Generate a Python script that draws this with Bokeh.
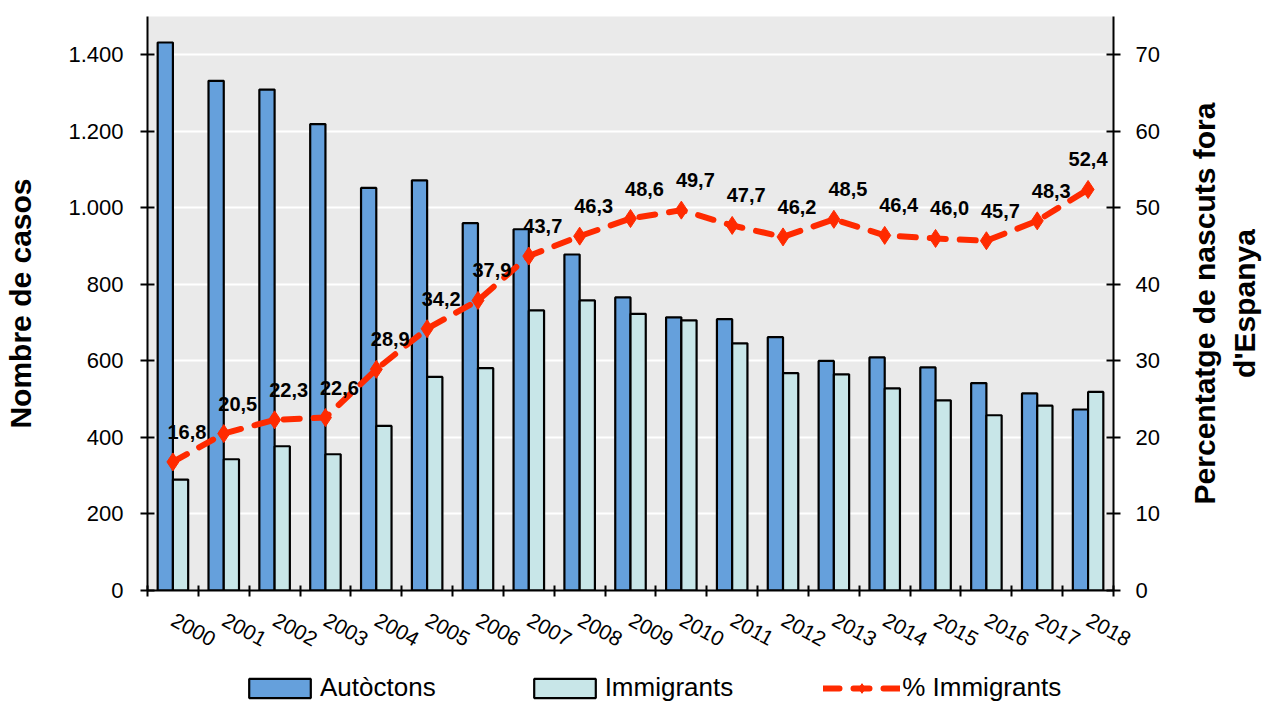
from bokeh.plotting import figure
from bokeh.layouts import row, column
from bokeh.models import (Range1d, LinearAxis, FixedTicker, ColumnDataSource,
                          LabelSet, Legend, LegendItem)
from bokeh.embed import file_html
from bokeh.resources import INLINE
from bokeh.core.properties import value
from bokeh.transform import dodge

years = list(range(2000, 2019))
autoctons = [1432, 1332, 1309, 1219, 1052, 1072, 960, 944, 878, 766,
             714, 709, 662, 600, 609, 583, 542, 515, 473]
immigrants = [290, 343, 377, 356, 430, 558, 581, 732, 758, 723,
              706, 646, 568, 565, 528, 497, 458, 483, 519]
pct_immigrants = [16.8, 20.5, 22.3, 22.6, 28.9, 34.2, 37.9, 43.7, 46.3, 48.6,
                  49.7, 47.7, 46.2, 48.5, 46.4, 46.0, 45.7, 48.3, 52.4]
left_ticks = [0, 200, 400, 600, 800, 1000, 1200, 1400]
right_ticks = [0, 10, 20, 30, 40, 50, 60, 70]
series_names = ["Autòctons", "Immigrants", "% Immigrants"]

FONT = "Liberation Sans"
BLUE = "#65A0DC"
LIGHT = "#C8E6E8"
RED = "#FF2A00"

n = len(years)
src = ColumnDataSource(dict(
    year=years, aut=autoctons, imm=immigrants, pct=pct_immigrants,
    lbl=[f"{v:.1f}".replace(".", ",") for v in pct_immigrants],
    # labels sit up and to the right of their point, except the last one,
    # which stays centred so that it remains inside the plot area
    lbl_dx=[14] * (n - 1) + [0],
))

bar1_style = dict(fill_color=BLUE, line_color="black", line_width=2.2)
bar2_style = dict(fill_color=LIGHT, line_color="black", line_width=2.2)
line_style = dict(line_color=RED, line_width=6, line_dash="16 14", line_cap="round")
mark_style = dict(marker="diamond", size=18, fill_color=RED, line_color=RED)

# ---------------- main chart ----------------
p = figure(frame_height=574, frame_width=966,
           min_border_left=147, min_border_right=47,
           min_border_top=16, min_border_bottom=80,
           x_range=Range1d(1999.5, 2018.5), y_range=Range1d(0, 1500),
           output_backend="svg", toolbar_location=None,
           background_fill_color="#EAEAEA", border_fill_color="white",
           outline_line_color=None)
p.extra_y_ranges = {"pct": Range1d(0, 75)}

p.vbar(x=dodge("year", -0.15), top="aut", width=0.3, source=src, **bar1_style)
p.vbar(x=dodge("year", 0.15), top="imm", width=0.3, source=src, **bar2_style)
p.line(x="year", y="pct", source=src, y_range_name="pct", **line_style)
p.scatter(x="year", y="pct", source=src, y_range_name="pct", **mark_style)

labels = LabelSet(x="year", y="pct", text="lbl", source=src, y_range_name="pct",
                  x_offset="lbl_dx", y_offset=30, text_align="center",
                  text_baseline="middle", text_font_size="20px",
                  text_font_style="bold", text_font=value(FONT),
                  text_color="black")
p.add_layout(labels)

p.xgrid.visible = False
p.ygrid.ticker = FixedTicker(ticks=left_ticks)
p.ygrid.grid_line_color = "white"
p.ygrid.grid_line_width = 2

xa = p.xaxis[0]
xa.ticker = FixedTicker(ticks=years, minor_ticks=[y - 0.5 for y in years] + [years[-1] + 0.5])
xa.major_tick_in = 0
xa.major_tick_out = 0
xa.minor_tick_in = 5
xa.minor_tick_out = 6
xa.minor_tick_line_width = 2
xa.minor_tick_line_color = "black"
xa.axis_line_width = 2
xa.axis_line_color = "black"
xa.major_label_orientation = -0.5
xa.major_label_standoff = 22
xa.major_label_text_font = FONT
xa.major_label_text_font_size = "21px"
xa.major_label_text_color = "black"

ya = p.yaxis[0]
ya.ticker = FixedTicker(ticks=left_ticks)
ya.major_label_overrides = {v: f"{v:,}".replace(",", ".") for v in left_ticks}
ya.major_tick_in = 7
ya.major_tick_out = 7
ya.major_tick_line_width = 2
ya.minor_tick_line_color = None
ya.axis_line_width = 2
ya.axis_line_color = "black"
ya.major_label_standoff = 17
ya.major_label_text_font = FONT
ya.major_label_text_font_size = "22px"
ya.major_label_text_color = "black"
ya.axis_label = "Nombre de casos"
ya.axis_label_text_font = FONT
ya.axis_label_text_font_size = "30px"
ya.axis_label_text_font_style = "bold"
ya.axis_label_text_color = "black"
ya.axis_label_standoff = 28

ra = LinearAxis(y_range_name="pct", ticker=FixedTicker(ticks=right_ticks))
ra.major_tick_in = 7
ra.major_tick_out = 7
ra.major_tick_line_width = 2
ra.minor_tick_line_color = None
ra.axis_line_width = 2
ra.axis_line_color = "black"
ra.major_label_standoff = 15
ra.major_label_text_font = FONT
ra.major_label_text_font_size = "22px"
ra.major_label_text_color = "black"
p.add_layout(ra, "right")

# ------------- right-hand title panel (reads bottom to top) -------------
q = figure(width=105, frame_height=574, min_border_left=104, min_border_right=0,
           min_border_top=16, min_border_bottom=80,
           x_range=Range1d(0, 1), y_range=Range1d(0, 1),
           output_backend="svg", toolbar_location=None,
           background_fill_color="white", border_fill_color="white",
           outline_line_color=None)
q.grid.visible = False
q.xaxis.visible = False
qa = q.yaxis[0]
qa.ticker = FixedTicker(ticks=[])
qa.axis_line_color = None
qa.major_tick_line_color = None
qa.minor_tick_line_color = None
qa.major_tick_out = 0
qa.major_tick_in = 0
qa.minor_tick_out = 0
qa.minor_tick_in = 0
qa.axis_label = "Percentatge de nascuts fora\nd'Espanya"
qa.axis_label_text_font = FONT
qa.axis_label_text_font_size = "30px"
qa.axis_label_text_font_style = "bold"
qa.axis_label_text_color = "black"
qa.axis_label_standoff = 6

# ---------------- legend strip ----------------
# Hidden renderers of the same data supply the legend symbols only.
lf = figure(width=1265, height=36, frame_width=966, frame_height=36,
            min_border_left=147, min_border_right=152,
            min_border_top=0, min_border_bottom=0,
            x_range=Range1d(0, 1), y_range=Range1d(0, 1),
            output_backend="svg", toolbar_location=None,
            background_fill_color="white", border_fill_color="white",
            outline_line_color=None)
lf.grid.visible = False
lf.axis.visible = False
g1 = lf.vbar(x="year", top="aut", width=0.3, source=src, visible=False, **bar1_style)
g2 = lf.vbar(x="year", top="imm", width=0.3, source=src, visible=False, **bar2_style)
g3 = lf.line(x="year", y="pct", source=src, visible=False, **line_style)
g4 = lf.scatter(x="year", y="pct", source=src, visible=False, **mark_style)

legend = Legend(items=[
    LegendItem(label=series_names[0], renderers=[g1]),
    LegendItem(label=series_names[1], renderers=[g2]),
    LegendItem(label=series_names[2], renderers=[g3, g4]),
], orientation="horizontal", location=(94, 3), spacing=90,
    glyph_width=77, glyph_height=24, label_text_font=FONT,
    label_text_font_size="26px", label_text_color="black",
    border_line_color=None, background_fill_alpha=0, padding=0, margin=0,
    label_standoff=2, inactive_fill_alpha=0)
lf.add_layout(legend)

layout = column(row(p, q, spacing=0), lf, spacing=0)
open("out.html", "w").write(file_html(layout, INLINE))
